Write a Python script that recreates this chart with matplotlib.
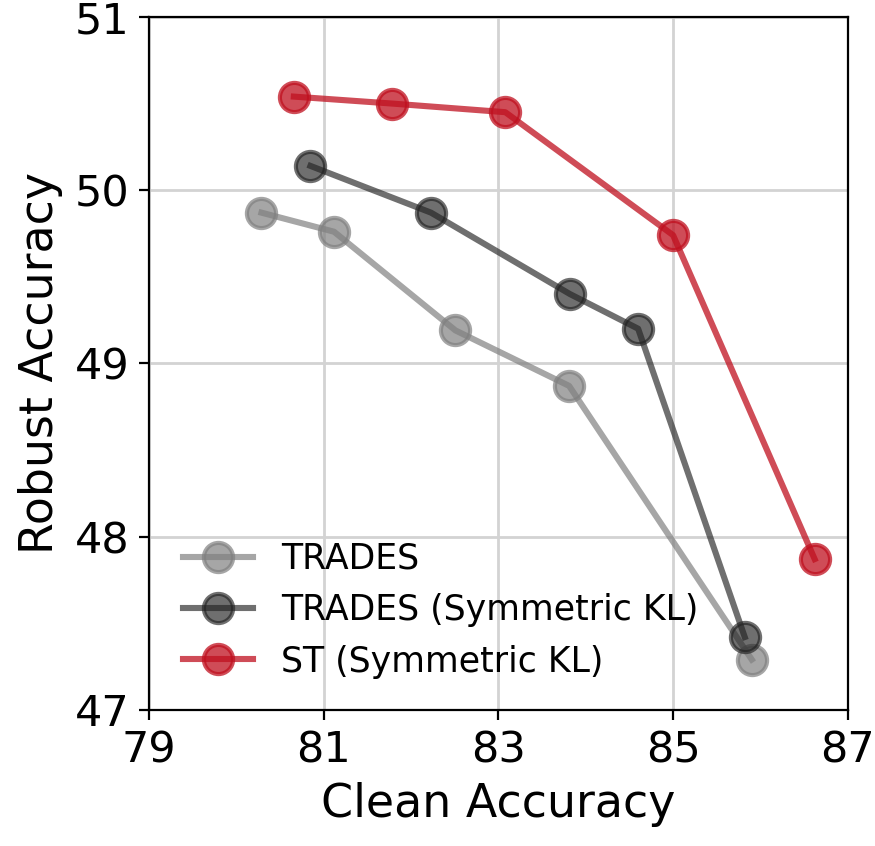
import numpy as np
import matplotlib
matplotlib.use('Agg')
import matplotlib.pyplot as plt

# values
trades_clean = [80.29, 81.12, 82.51, 83.81, 85.90]
trades_robust = [49.87, 49.76, 49.19, 48.87, 47.29]

trades_skl_clean = [80.85, 82.23, 83.82, 84.60, 85.82]
trades_skl_robust = [50.14, 49.87, 49.40, 49.20, 47.42]

st_skl_clean = [80.66, 81.78, 83.08, 85.00, 86.62]
st_skl_robust = [50.54, 50.50, 50.45, 49.74, 47.87]

labels = ['TRADES', 'TRADES (Symmetric KL)', 'ST (Symmetric KL)']
colors = ['#808080', '#222222', '#c0101f']
alphas = [0.7, 0.65, 0.75]

fig = plt.figure(figsize=(4.375, 4.23), dpi=200)
ax = fig.add_axes([0.170, 0.161, 0.799, 0.819])

series = [(trades_clean, trades_robust),
          (trades_skl_clean, trades_skl_robust),
          (st_skl_clean, st_skl_robust)]
for (x, y), lab, c, a in zip(series, labels, colors, alphas):
    ax.plot(x, y, '-o', color=c, alpha=a, lw=2.2, ms=10.5, mew=1.5,
            label=lab, zorder=3)

ax.set_xlim(79, 87)
ax.set_ylim(47, 51)
ax.set_xticks([79, 81, 83, 85, 87])
ax.set_yticks([47, 48, 49, 50, 51])
ax.tick_params(labelsize=15.5)
ax.grid(True, color='#d3d3d3', lw=1)
ax.set_axisbelow(True)
ax.set_xlabel('Clean Accuracy', fontsize=16.5)
ax.set_ylabel('Robust Accuracy', fontsize=16.5)
ax.legend(loc='lower left', frameon=False, fontsize=12.5,
          bbox_to_anchor=(0.005, 0.0))

fig.savefig('out.png', dpi=200)
